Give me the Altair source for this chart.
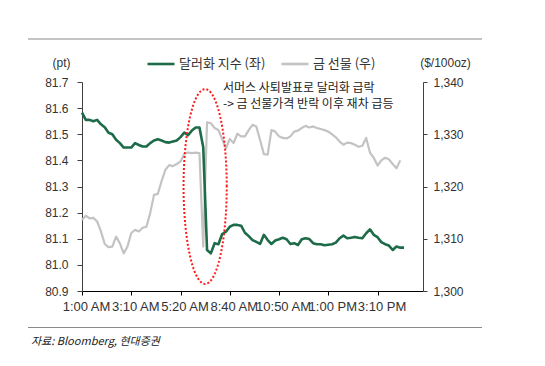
import altair as alt
import numpy as np
import pandas as pd

# ---------------- data ----------------
x_labels = ["1:00 AM", "3:10 AM", "5:20 AM", "8:40 AM", "10:50 AM", "1:00 PM", "3:10 PM"]
label_step = 13
x_max = 90

series_names = ["달러화 지수 (좌)", "금 선물 (우)"]
series_colors = ["#1d6b48", "#c3c3c3"]

dollar_index = [
    81.583, 81.555, 81.555, 81.550, 81.555, 81.538, 81.527, 81.506, 81.500, 81.479,
    81.466, 81.449, 81.449, 81.449, 81.466, 81.459, 81.453, 81.453, 81.466, 81.476,
    81.481, 81.476, 81.470, 81.468, 81.472, 81.476, 81.489, 81.506, 81.497, 81.514,
    81.526, 81.526, 81.450, 81.057, 81.044, 81.083, 81.079, 81.118, 81.127, 81.146,
    81.153, 81.153, 81.150, 81.123, 81.110, 81.095, 81.088, 81.080, 81.115, 81.095,
    81.080, 81.093, 81.098, 81.104, 81.098, 81.080, 81.083, 81.076, 81.098, 81.102,
    81.099, 81.083, 81.079, 81.079, 81.075, 81.077, 81.079, 81.085, 81.102, 81.112,
    81.102, 81.104, 81.107, 81.104, 81.102, 81.121, 81.136, 81.115, 81.106, 81.087,
    81.079, 81.074, 81.057, 81.070, 81.066, 81.066,
]

gold_futures = [
    1313.6, 1314.4, 1313.9, 1314.0, 1313.3, 1311.4, 1309.0, 1308.4, 1308.5, 1310.4,
    1309.1, 1307.2, 1308.5, 1311.1, 1311.7, 1311.4, 1312.1, 1312.3, 1314.9, 1318.4,
    1318.6, 1321.0, 1323.2, 1324.1, 1323.9, 1324.3, 1324.8, 1326.2, 1326.5, 1326.4,
    1326.5, 1326.4, 1308.5, 1332.3, 1332.1, 1331.2, 1330.8, 1329.1, 1327.3, 1329.1,
    1328.3, 1330.1, 1329.6, 1329.6, 1330.8, 1331.8, 1331.5, 1328.9, 1326.2, 1326.1,
    1330.8, 1330.5, 1329.6, 1329.3, 1329.2, 1329.6, 1330.5, 1330.7, 1331.2, 1331.6,
    1331.3, 1331.5, 1331.2, 1331.0, 1330.8, 1330.5, 1330.0, 1329.4, 1328.6, 1328.0,
    1328.4, 1328.3, 1328.0, 1327.6, 1327.8, 1329.3, 1326.5, 1325.5, 1324.0, 1325.0,
    1325.5, 1325.2, 1324.3, 1323.5, 1325.0,
]

left_ticks = [80.9, 81.0, 81.1, 81.2, 81.3, 81.4, 81.5, 81.6, 81.7]
right_ticks = [1300, 1310, 1320, 1330, 1340]

annotation_lines = ["서머스 사퇴발표로 달러화 급락", "-> 금 선물가격 반락 이후 재차 급등"]
source_note = "자료: Bloomberg, 현대증권"

# highlighted region (ellipse) in data units
ellipse_center = (32.5, 81.30)
ellipse_radius = (5.7, 0.373)

# ---------------- frames ----------------
dollar_df = pd.DataFrame({"idx": range(len(dollar_index)), "value": dollar_index,
                          "series": series_names[0]})
gold_df = pd.DataFrame({"idx": range(len(gold_futures)), "value": gold_futures,
                        "series": series_names[1]})
t = np.linspace(0, 2 * np.pi, 121)
ellipse_df = pd.DataFrame({
    "t": t,
    "idx": ellipse_center[0] + ellipse_radius[0] * np.cos(t),
    "value": ellipse_center[1] + ellipse_radius[1] * np.sin(t),
})

NUM_FONT = "Liberation Sans"
KR_FONT = "Noto Sans CJK KR"
AXIS_COLOR = "#404040"
LABEL_COLOR = "#333333"

label_expr = "[" + ",".join(f"'{l}'" for l in x_labels) + f"][round(datum.value/{label_step})]"

x_enc = alt.X(
    "idx:Q",
    scale=alt.Scale(domain=[0, x_max], nice=False, zero=False),
    axis=alt.Axis(
        values=[i * label_step for i in range(len(x_labels))],
        labelExpr=label_expr, title=None, grid=False,
        domainColor="#000000", tickColor="#000000", tickSize=4,
        labelFont=NUM_FONT, labelFontSize=13, labelColor=LABEL_COLOR,
        labelPadding=5, labelOffset=4, labelOverlap=False, labelFlush=False,
    ),
)

color_enc = alt.Color(
    "series:N",
    scale=alt.Scale(domain=series_names, range=series_colors),
    legend=alt.Legend(
        orient="none", legendX=64, legendY=-33, direction="horizontal",
        title=None, symbolType="stroke", symbolSize=729, symbolStrokeWidth=2.6,
        labelFont=KR_FONT, labelFontSize=13, labelColor=LABEL_COLOR,
        labelOffset=3, columnPadding=10,
    ),
)

left_y = alt.Y(
    "value:Q",
    scale=alt.Scale(domain=[left_ticks[0], left_ticks[-1]], nice=False, zero=False),
    axis=alt.Axis(
        orient="left", values=left_ticks, format=".1f", grid=False,
        domainColor=AXIS_COLOR, tickColor=AXIS_COLOR, tickSize=5,
        labelFont=NUM_FONT, labelFontSize=12, labelColor=LABEL_COLOR, labelPadding=9,
        title="(pt)", titleAngle=0, titleX=-21, titleY=-13, titleAlign="center",
        titleBaseline="bottom", titleFont=NUM_FONT, titleFontSize=12,
        titleFontWeight="normal", titleColor=LABEL_COLOR,
    ),
)

right_y = alt.Y(
    "value:Q",
    scale=alt.Scale(domain=[right_ticks[0], right_ticks[-1]], nice=False, zero=False),
    axis=alt.Axis(
        orient="right", values=right_ticks, format=",.0f", grid=False,
        domainColor=AXIS_COLOR, tickColor=AXIS_COLOR, tickSize=4,
        labelFont=NUM_FONT, labelFontSize=12, labelColor=LABEL_COLOR, labelPadding=6,
        title="($/100oz)", titleAngle=0, titleX=22, titleY=-13, titleAlign="center",
        titleBaseline="bottom", titleFont=NUM_FONT, titleFontSize=12,
        titleFontWeight="normal", titleColor=LABEL_COLOR,
    ),
)

dollar_line = alt.Chart(dollar_df).mark_line(strokeWidth=2.6, strokeJoin="round").encode(
    x=x_enc, y=left_y, color=color_enc
)

ellipse = alt.Chart(ellipse_df).mark_line(
    color="#ff1a1a", strokeWidth=2, strokeDash=[2, 2]
).encode(x=x_enc, y=left_y, order=alt.Order("t:Q"))

annotation_1 = alt.Chart(dollar_df.head(1)).mark_text(
    align="left", baseline="middle", font=KR_FONT, fontSize=12, color="#222222",
).encode(x=alt.value(141), y=alt.value(6), text=alt.value(annotation_lines[0]))
annotation_2 = alt.Chart(dollar_df.head(1)).mark_text(
    align="left", baseline="middle", font=KR_FONT, fontSize=12, color="#222222",
).encode(x=alt.value(141), y=alt.value(22), text=alt.value(annotation_lines[1]))

top_rule = alt.Chart(dollar_df.head(1)).mark_rule(color="#8a8a8a", strokeWidth=1.2).encode(
    x=alt.value(-54), x2=alt.value(400), y=alt.value(-43)
)
bottom_rule = alt.Chart(dollar_df.head(1)).mark_rule(color="#8a8a8a", strokeWidth=1.2).encode(
    x=alt.value(-54), x2=alt.value(400), y=alt.value(245.5)
)
footnote = alt.Chart(dollar_df.head(1)).mark_text(
    align="left", baseline="middle", font=KR_FONT, fontSize=11, fontStyle="italic",
    color="#222222",
).encode(x=alt.value(-51), y=alt.value(260), text=alt.value(source_note))

gold_line = alt.Chart(gold_df).mark_line(strokeWidth=2.2, strokeJoin="round").encode(
    x=x_enc, y=right_y, color=color_enc
)

left_layer = alt.layer(dollar_line, ellipse, annotation_1, annotation_2,
                       top_rule, bottom_rule, footnote)

chart = alt.layer(gold_line, left_layer).resolve_scale(
    y="independent"
).properties(
    width=341, height=209,
    autosize=alt.AutoSizeParams(type="none"),
    padding={"left": 74, "top": 74, "right": 110, "bottom": 60},
    background="white",
).configure_view(strokeWidth=0)

chart.save("out.html", embed_options={"renderer": "svg", "actions": False})
